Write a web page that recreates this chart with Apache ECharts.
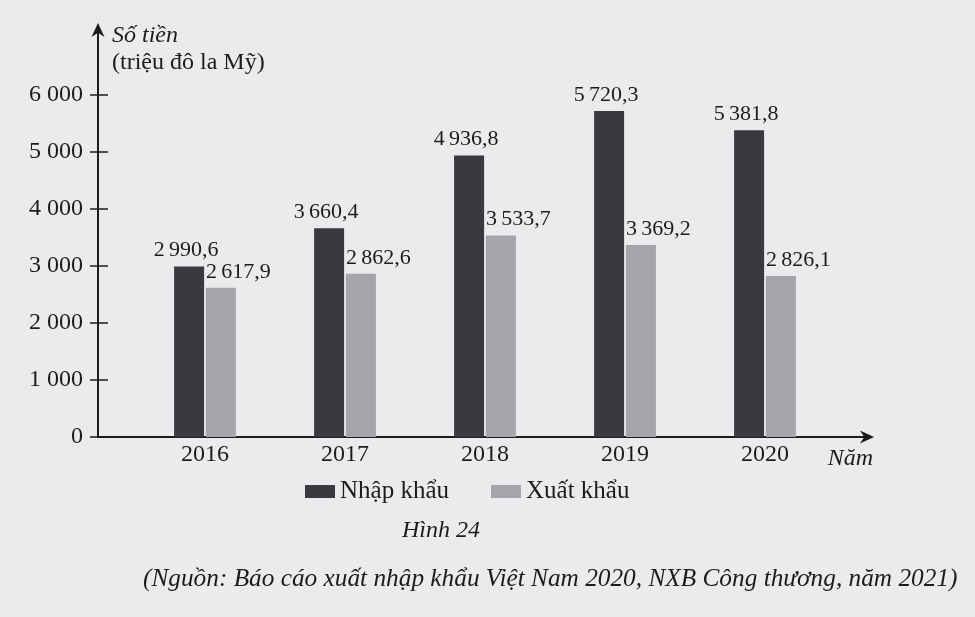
<!DOCTYPE html>
<html>
<head>
<meta charset="utf-8">
<script src="https://cdn.jsdelivr.net/npm/echarts@6/dist/echarts.min.js"></script>
<style>
  html, body { margin: 0; padding: 0; background: #ebebed; }
  #chart { width: 975px; height: 617px; }
</style>
</head>
<body>
<div id="chart"></div>
<script>
var years = ['2016', '2017', '2018', '2019', '2020'];
var importValues = [2990.6, 3660.4, 4936.8, 5720.3, 5381.8];
var exportValues = [2617.9, 2862.6, 3533.7, 3369.2, 2826.1];
var seriesNames = ['Nhập khẩu', 'Xuất khẩu'];
var yTicks = { min: 0, max: 6000, interval: 1000 };

var FONT = '"Liberation Serif", "Times New Roman", serif';
var TEXT = '#1c1c1c';
var DARK = '#3a3a3e';
var LIGHT = '#a3a5a9';

function fmtValue(v) {
  var parts = v.toFixed(1).split('.');
  var ip = parts[0];
  var out = ip.length > 3 ? ip.slice(0, ip.length - 3) + '\u2009' + ip.slice(ip.length - 3) : ip;
  return out + ',' + parts[1];
}
function fmtTick(v) {
  var s = String(v);
  return s.length > 3 ? s.slice(0, s.length - 3) + ' ' + s.slice(s.length - 3) : s;
}

var chevron = 'path://M6,0 L12,13 L6,9 L0,13 Z';

var option = {
  backgroundColor: '#ebebed',
  animation: false,
  textStyle: { fontFamily: FONT, color: TEXT },
  title: [
    { text: 'Số tiền', left: 112, top: 24, padding: 0,
      textStyle: { fontFamily: FONT, fontStyle: 'italic', fontWeight: 'normal', fontSize: 24, color: TEXT } },
    { text: '(triệu đô la Mỹ)', left: 112, top: 51, padding: 0,
      textStyle: { fontFamily: FONT, fontWeight: 'normal', fontSize: 24, color: TEXT } },
    { text: 'Hình 24', left: 441, top: 519, padding: 0, textAlign: 'center',
      textStyle: { fontFamily: FONT, fontStyle: 'italic', fontWeight: 'normal', fontSize: 24, color: TEXT } },
    { text: '(Nguồn: Báo cáo xuất nhập khẩu Việt Nam 2020, NXB Công thương, năm 2021)', left: 143, top: 567, padding: 0,
      textStyle: { fontFamily: FONT, fontStyle: 'italic', fontWeight: 'normal', fontSize: 25.3, color: TEXT } }
  ],
  legend: {
    data: seriesNames,
    left: 300, top: 474,
    icon: 'rect', itemWidth: 30, itemHeight: 13, itemGap: 42,
    textStyle: { fontFamily: FONT, fontSize: 25, color: TEXT },
    selectedMode: false
  },
  grid: [
    { left: 98, right: 108, top: 30, bottom: 180 },
    { left: 135, width: 700, top: 95, bottom: 180 }
  ],
  xAxis: [
    { type: 'value', gridIndex: 0, min: 0, max: 1,
      axisLine: { show: true, symbol: ['none', chevron], symbolSize: [13, 15], lineStyle: { color: TEXT, width: 2 } },
      axisTick: { show: false }, axisLabel: { show: false }, splitLine: { show: false },
      name: 'Năm', nameLocation: 'end', nameGap: 6,
      nameTextStyle: { fontFamily: FONT, fontStyle: 'italic', fontSize: 24, color: TEXT, align: 'right', verticalAlign: 'top', padding: [10, 0, 0, 0] } },
    { type: 'category', gridIndex: 1, data: years,
      axisLine: { show: false }, axisTick: { show: false },
      axisLabel: { fontFamily: FONT, fontSize: 24, color: TEXT, margin: 6 } }
  ],
  yAxis: [
    { type: 'value', gridIndex: 0, min: 0, max: 1, position: 'left',
      axisLine: { show: true, symbol: ['none', chevron], symbolSize: [13, 15], lineStyle: { color: TEXT, width: 2 } },
      axisTick: { show: false }, axisLabel: { show: false }, splitLine: { show: false } },
    { type: 'value', gridIndex: 1, min: yTicks.min, max: yTicks.max, interval: yTicks.interval, offset: 37, position: 'left',
      axisLine: { show: false },
      axisTick: { show: true, length: 8, lineStyle: { color: TEXT, width: 1.5 } },
      axisLabel: { fontFamily: FONT, fontSize: 24, color: TEXT, margin: 15, formatter: fmtTick },
      splitLine: { show: false } },
    { type: 'value', gridIndex: 1, min: yTicks.min, max: yTicks.max, interval: yTicks.interval, offset: 37, position: 'left',
      axisLine: { show: false },
      axisTick: { show: true, inside: true, length: 10, lineStyle: { color: TEXT, width: 1.5 } },
      axisLabel: { show: false }, splitLine: { show: false } }
  ],
  series: [
    { name: seriesNames[0], type: 'bar', xAxisIndex: 1, yAxisIndex: 1,
      data: importValues, barWidth: 30, barGap: '6%',
      itemStyle: { color: DARK },
      label: { show: true, position: 'top', distance: 5, offset: [-3, 0], fontFamily: FONT, fontSize: 22, color: TEXT,
        formatter: function (p) { return fmtValue(p.value); } } },
    { name: seriesNames[1], type: 'bar', xAxisIndex: 1, yAxisIndex: 1,
      data: exportValues, barWidth: 30,
      itemStyle: { color: LIGHT },
      label: { show: true, position: 'top', distance: 5, align: 'left', offset: [-15, 0], fontFamily: FONT, fontSize: 22, color: TEXT,
        formatter: function (p) { return fmtValue(p.value); } } }
  ]
};

var chart = echarts.init(document.getElementById('chart'), null, { renderer: 'canvas' });
chart.setOption(option);
</script>
</body>
</html>
